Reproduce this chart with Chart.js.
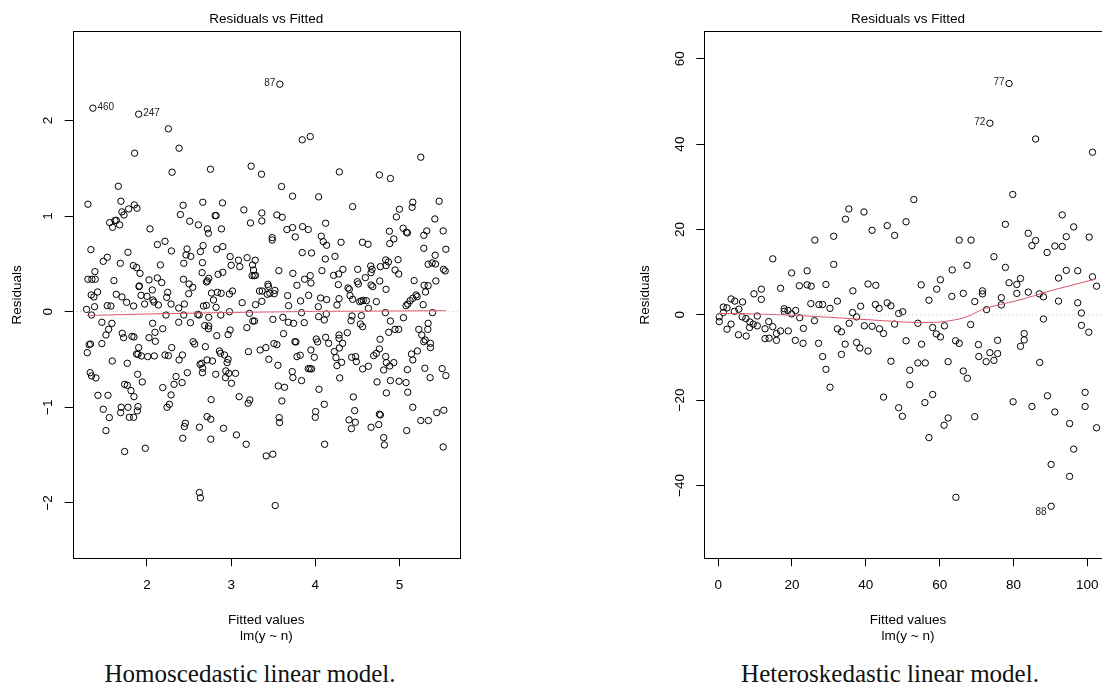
<!DOCTYPE html>
<html>
<head>
<meta charset="utf-8">
<script src="https://cdn.jsdelivr.net/npm/chart.js@4.4.1/dist/chart.umd.min.js"></script>
<style>
  html, body { margin: 0; padding: 0; background: #fff; overflow: hidden; width: 1102px; height: 685px; }
  canvas { position: absolute; top: 0; }
  .caption {
    position: absolute; top: 660px; width: 400px;
    font-family: "Liberation Serif", "Times New Roman", serif;
    font-size: 25px; line-height: 28px; color: #111;
    text-align: center; white-space: nowrap;
  }
</style>
</head>
<body>
<canvas id="homChart" width="550" height="660" style="left:0"></canvas>
<canvas id="hetChart" width="520" height="660" style="left:620px"></canvas>
<div class="caption" style="left:50px">Homoscedastic linear model.</div>
<div class="caption" style="left:690px">Heteroskedastic linear model.</div>

<script>
// ---- homoscedastic fit: fitted values / residuals ----
const homFitted = [
  2.254, 2.381, 3.845, 3.940, 1.853, 5.254, 2.298, 2.754, 3.238, 3.361, 4.286, 4.762, 4.893, 1.659, 3.599, 3.730,
  4.040, 1.298, 1.690, 1.849, 1.881, 1.782, 1.702, 1.726, 2.429, 2.663, 2.897, 2.397, 3.151, 3.365, 3.544, 3.607,
  4.444, 5.159, 5.151, 5.472, 5.000, 4.964, 5.421, 2.810, 2.821, 1.556, 1.619, 1.635, 1.591, 1.675, 2.508, 2.611,
  2.718, 2.730, 2.036, 2.885, 3.230, 3.365, 3.663, 3.730, 3.849, 3.917, 3.762, 4.123, 4.881, 5.044, 5.083, 5.095,
  5.325, 5.290, 5.520, 4.071, 4.095, 4.135, 4.306, 4.560, 4.627, 4.933, 4.885, 5.290, 5.552, 5.425, 3.488, 3.488,
  2.123, 2.214, 2.290, 2.476, 2.464, 2.520, 2.667, 2.829, 2.901, 2.635, 1.333, 1.528, 1.480, 1.774, 1.683, 1.837,
  1.877, 1.917, 2.437, 2.659, 2.159, 2.988, 3.000, 3.087, 3.103, 3.190, 3.286, 3.254, 3.250, 3.274, 3.290, 3.266,
  3.567, 3.845, 3.956, 4.119, 4.234, 4.079, 4.278, 4.329, 4.218, 4.504, 4.659, 4.675, 4.663, 4.774, 4.837, 4.841,
  4.869, 4.984, 4.948, 4.992, 5.341, 5.389, 5.429, 5.524, 5.544, 4.766, 5.175, 5.433, 1.298, 1.345, 1.385, 1.381,
  1.607, 2.024, 2.123, 2.175, 2.433, 2.500, 2.544, 2.496, 2.706, 2.734, 2.845, 2.901, 2.655, 2.718, 3.437, 3.444,
  3.734, 3.782, 3.873, 3.940, 3.948, 4.274, 4.389, 4.405, 4.500, 4.512, 4.595, 4.663, 4.683, 4.841, 5.294, 5.341,
  5.310, 5.198, 5.159, 5.127, 5.210, 5.099, 5.079, 5.282, 1.337, 1.413, 1.369, 1.635, 1.702, 1.758, 1.929, 1.909,
  1.905, 1.972, 2.000, 2.063, 2.071, 2.083, 2.135, 2.246, 2.234, 2.286, 2.377, 2.444, 2.766, 2.790, 2.821, 2.837,
  2.881, 2.980, 3.016, 3.131, 3.290, 3.337, 3.369, 3.365, 3.429, 3.460, 3.512, 3.520, 3.671, 3.683, 3.825, 3.921,
  4.036, 4.063, 4.135, 4.258, 4.282, 4.413, 4.444, 4.528, 4.548, 4.571, 4.607, 4.631, 4.726, 1.282, 1.377, 1.528,
  1.571, 1.841, 2.671, 2.706,
  1.341, 2.437, 2.226, 2.603, 2.619, 2.734, 2.877, 2.980, 3.218, 3.187, 3.258, 3.278, 3.496, 3.615, 3.679, 3.742,
  3.869, 3.837, 4.040, 4.107, 4.131, 4.437, 4.425, 4.548, 4.536, 4.563, 4.833, 4.893, 5.048, 5.393, 5.341, 5.337,
  5.230, 5.266, 5.306, 5.369, 5.369, 5.290, 5.214, 5.143, 5.159, 5.302, 5.365, 5.508, 5.552, 5.095, 5.099, 5.079,
  4.996, 5.159, 5.254, 5.345, 5.444, 5.528, 5.520, 5.087, 1.464, 1.512, 1.544, 1.583, 1.464, 1.313, 1.329, 1.290,
  1.587, 1.706, 1.722, 1.821, 1.845, 1.766, 1.901, 1.877, 1.893, 1.933, 2.024, 2.095, 2.067, 2.099, 2.087, 2.008,
  2.187, 2.214, 2.254, 2.294, 2.377, 2.516, 2.381, 2.421, 2.480, 2.548, 2.567, 2.694, 2.687, 2.734, 2.730, 2.829,
  2.964, 2.988, 2.861, 2.873, 2.921, 2.964, 2.952, 2.714, 2.778, 2.651, 2.631, 2.663, 2.659, 2.817, 2.937, 2.972,
  3.052, 2.933, 3.004, 2.345, 2.321, 2.417, 2.187, 2.286, 2.238, 2.266, 1.325, 1.341, 1.393, 1.417, 1.536, 1.480,
  1.552, 1.512, 1.694, 1.687, 1.734, 1.766, 1.810, 1.845, 1.774, 1.790, 1.841, 1.885, 1.893, 1.889, 1.944, 1.734,
  1.980, 2.425, 2.444, 2.456, 2.623, 2.714, 2.758, 2.762, 2.758, 2.909, 3.095, 3.063, 3.222, 3.202, 3.179, 3.206,
  3.345, 3.413, 3.448, 3.508, 3.544, 3.556, 3.560, 3.635, 3.603, 3.571, 3.575, 3.496, 3.417, 3.524, 2.623, 2.635,
  3.623, 3.758, 3.770, 3.782, 3.821, 3.726, 3.734, 3.837, 3.948, 3.988, 3.917, 3.937, 3.956, 4.012, 4.028, 4.123,
  4.159, 4.226, 4.246, 4.282, 4.282, 4.286, 4.325, 4.313, 4.258, 4.290, 4.044, 4.107, 4.004, 4.000, 4.111, 4.381,
  4.433, 4.480, 4.488, 4.563, 4.631, 4.694, 4.726, 4.762, 4.770, 4.873, 4.948, 4.992, 4.837, 4.845, 4.885, 4.933,
  4.813, 4.734, 4.893, 4.845, 4.452, 4.468, 4.401, 4.476, 4.429, 4.762, 4.774, 4.754, 4.663, 4.813, 4.821
];
const homResid = [
  1.913, 1.710, 1.798, 1.832, 1.658, 1.616, 1.459, 1.490, 1.522, 1.438, 1.462, 1.431, 1.393, 1.312, 1.309, 1.208,
  1.201, 1.124, 1.155, 1.117, 1.082, 1.075, 1.044, 1.012, 1.113, 1.145, 1.138, 1.016, 1.065, 1.033, 1.012, 0.988,
  1.099, 1.145, 1.092, 1.155, 1.072, 0.991, 0.970, 1.005, 1.005, 0.932, 0.953, 0.956, 0.883, 0.908, 0.946, 0.908,
  0.866, 0.820, 0.866, 0.866, 0.928, 0.949, 0.859, 0.880, 0.890, 0.859, 0.782, 0.925, 0.841, 0.873, 0.831, 0.824,
  0.845, 0.799, 0.845, 0.789, 0.733, 0.695, 0.726, 0.726, 0.705, 0.761, 0.712, 0.663, 0.653, 0.590, 0.775, 0.750,
  0.702, 0.736, 0.635, 0.656, 0.593, 0.579, 0.691, 0.653, 0.681, 0.628, 0.649, 0.569, 0.527, 0.621, 0.506, 0.482,
  0.461, 0.401, 0.506, 0.513, 0.489, 0.576, 0.485, 0.538, 0.471, 0.565, 0.538, 0.489, 0.377, 0.377, 0.380, 0.436,
  0.429, 0.618, 0.614, 0.551, 0.579, 0.429, 0.394, 0.443, 0.380, 0.443, 0.478, 0.443, 0.408, 0.471, 0.541, 0.482,
  0.520, 0.544, 0.436, 0.394, 0.496, 0.510, 0.499, 0.443, 0.426, 0.321, 0.325, 0.321, 0.339, 0.339, 0.339, 0.419,
  0.325, 0.332, 0.353, 0.304, 0.339, 0.290, 0.255, 0.188, 0.311, 0.349, 0.391, 0.412, 0.408, 0.321, 0.286, 0.265,
  0.401, 0.276, 0.339, 0.377, 0.300, 0.283, 0.248, 0.234, 0.314, 0.290, 0.356, 0.279, 0.262, 0.234, 0.276, 0.272,
  0.206, 0.175, 0.140, 0.115, 0.157, 0.080, 0.063, 0.073, 0.175, 0.206, 0.154, 0.182, 0.154, 0.098, 0.171, 0.269,
  0.262, 0.080, 0.161, 0.227, 0.122, 0.101, 0.070, 0.202, 0.150, 0.080, 0.038, 0.080, 0.195, 0.122, 0.045, 0.202,
  0.192, 0.185, 0.216, 0.094, 0.073, 0.216, 0.216, 0.108, 0.182, 0.192, 0.188, 0.223, 0.168, 0.063, 0.112, 0.171,
  0.052, 0.143, 0.126, 0.070, 0.136, 0.168, 0.129, 0.105, 0.112, 0.119, 0.115, 0.035, 0.105, 0.024, 0.052, 0.063,
  0.059, 0.059, 0.059, 0.066,
  -0.035, -0.035, -0.035, -0.028, -0.035, -0.059, -0.035, 0.000, -0.017, -0.167, -0.098, -0.098, -0.080, -0.059, -0.111, -0.122,
  -0.115, -0.010, -0.052, -0.087, -0.024, -0.045, -0.094, -0.042, -0.129, -0.157, -0.010, -0.098, -0.063, -0.010, -0.122, -0.185,
  -0.185, -0.244, -0.296, -0.331, -0.376, -0.314, -0.411, -0.443, -0.505, -0.592, -0.690, -0.596, -0.669, -0.606, -0.843, -0.742,
  -0.728, -1.000, -1.139, -1.139, -1.056, -1.031, -1.415, -1.244, -0.111, -0.244, -0.185, -0.122, -0.334, -0.345, -0.338, -0.429,
  -0.516, -0.226, -0.272, -0.258, -0.265, -0.540, -0.376, -0.443, -0.446, -0.463, -0.272, -0.216, -0.122, -0.310, -0.463, -0.470,
  -0.178, -0.453, -0.460, -0.376, -0.111, -0.115, -0.505, -0.453, -0.638, -0.314, -0.338, -0.366, -0.146, -0.150, -0.178, -0.251,
  -0.240, -0.192, -0.411, -0.436, -0.453, -0.498, -0.533, -0.505, -0.516, -0.540, -0.551, -0.592, -0.638, -0.655, -0.620, -0.645,
  -0.645, -0.690, -0.749, -0.679, -0.760, -0.742, -0.794, -0.871, -1.000, -0.969, -0.638, -0.672, -0.693, -0.875, -0.875, -1.021,
  -1.108, -1.244, -1.000, -1.056, -0.760, -0.770, -0.826, -0.889, -1.000, -1.105, -1.105, -1.038, -0.993, -0.655, -0.735, -1.463,
  -1.429, -1.324, -1.202, -1.167, -1.209, -1.098, -1.125, -0.920, -1.334, -1.220, -0.889, -1.289, -0.923, -0.958, -1.387, -0.418,
  -0.401, -0.376, -0.498, -0.334, -0.345, -0.561, -0.777, -0.791, -0.934, -1.108, -1.160, -1.491, -1.509, -2.028, -1.892, -1.948,
  -0.230, -0.314, -0.317, -0.470, -0.456, -0.627, -0.690, -0.721, -0.401, -0.477, -0.596, -0.596, -0.599, -0.286, -0.317, -0.268,
  -0.331, -0.418, -0.481, -0.244, -0.279, -0.380, -0.331, -0.530, -0.564, -0.693, -0.812, -0.969, -1.045, -1.105, -1.387, -0.220,
  -0.477, -0.470, -0.523, -0.599, -0.571, -0.460, -0.436, -0.390, -0.289, -0.216, -0.185, -0.185, -0.470, -0.533, -0.568, -0.533,
  -0.610, -0.735, -0.721, -0.850, -0.892, -1.035, -1.132, -1.157, -1.223, -1.073, -1.080, -1.181, -1.209, -1.317, -1.394
];
// observations flagged with their row number
const homIds = ['460', '247', '87'];
const homIdFitted = [1.357, 1.901, 3.579];
const homIdResid = [2.129, 2.066, 2.380];
// lowess smoother
const homSmoothFitted = [1.286, 2.0, 3.0, 4.0, 5.0, 5.552];
const homSmoothResid = [-0.040, -0.025, -0.008, 0.003, 0.007, 0.010];
// axes
const homXRange = [1.117, 5.72];
const homYRange = [-2.58, 2.933];
const homXTicks = [2, 3, 4, 5];
const homYTicks = [-2, -1, 0, 1, 2];

// ---- heteroskedastic fit ----
const hetFitted = [
  86.0, 101.4, 79.8, 53.0, 35.4, 34.5, 39.5, 41.7, 45.8, 47.8, 50.9, 77.8, 93.2, 96.3, 100.5, 94.3,
  84.0, 85.0, 86.0, 93.2, 91.2, 89.1, 65.3, 68.5, 26.2, 31.3, 31.3, 14.8, 19.9, 24.1, 22.0, 24.1,
  25.2, 29.2, 16.9, 11.7, 11.7, 9.7, 74.7, 77.8, 67.4, 63.4, 94.3, 97.4, 92.2, 101.4, 102.5, 81.9,
  78.8, 80.9, 80.9, 84.0, 87.0, 88.1, 76.7, 76.7, 71.6, 71.6, 66.4, 63.3, 60.2, 59.2, 55.0, 57.1,
  69.5, 72.7, 92.2, 97.4, 98.4, 40.6, 42.7, 36.5, 32.3, 38.6, 42.6, 43.6, 45.8, 46.8, 48.9, 50.0,
  36.4, 25.1, 27.3, 28.3, 30.3, 17.9, 17.9, 18.9, 19.9, 21.0, 3.5, 4.5, 6.6, 5.6, 4.4, 2.4,
  1.4, 1.4,
  0.3, 0.3, 2.4, 3.5, 6.5, 7.5, 8.6, 8.5, 9.5, 10.6, 10.6, 5.5, 7.6, 12.7, 13.7, 14.8,
  12.7, 13.8, 15.8, 15.8, 16.9, 19.0, 22.1, 23.1, 20.9, 23.0, 26.1, 27.2, 28.3, 29.2, 30.3, 32.3,
  33.4, 34.4, 33.4, 35.5, 37.5, 37.5, 38.4, 39.6, 40.6, 41.7, 43.7, 44.8, 46.8, 47.8, 44.8, 48.9,
  49.9, 50.9, 51.9, 51.9, 54.1, 54.1, 55.1, 56.1, 56.0, 57.1, 58.1, 58.1, 59.1, 60.2, 61.3, 61.2,
  62.3, 62.3, 64.3, 65.3, 64.4, 66.4, 67.5, 68.4, 69.5, 70.5, 70.6, 72.6, 73.6, 74.7, 75.7, 75.7,
  79.9, 81.9, 82.9, 82.9, 85.0, 87.1, 88.1, 89.2, 90.2, 91.2, 95.2, 96.3, 95.2, 98.4, 99.4, 99.4,
  100.4, 102.5
];
const hetResid = [
  41.2, 38.1, 28.2, 27.0, 24.8, 22.4, 24.1, 19.8, 20.9, 18.6, 21.8, 21.2, 23.4, 20.6, 18.2, 18.3,
  19.1, 16.2, 17.4, 16.0, 16.1, 14.6, 17.5, 17.5, 17.5, 18.4, 11.8, 13.1, 9.8, 10.3, 6.8, 7.0,
  6.7, 7.1, 6.2, 6.0, 3.6, 4.9, 13.6, 11.1, 11.6, 10.5, 10.4, 10.3, 8.6, 8.9, 6.7, 8.5,
  7.5, 7.1, 5.0, 5.3, 4.9, 4.2, 4.0, 2.3, 5.6, 4.9, 5.0, 4.3, 8.2, 6.0, 7.0, 3.4,
  3.1, 1.2, 3.2, 2.8, 0.4, 7.2, 6.9, 5.6, 3.2, 2.0, 2.4, 1.5, 2.8, 2.1, 0.3, 0.7,
  0.5, 2.6, 2.4, 2.4, 1.5, 1.4, 0.8, 1.0, 0.2, 1.0, 3.7, 3.2, 3.0, 1.3, 0.8, 1.6,
  1.8, 0.5,
  -0.5, -1.6, -3.4, -2.2, -0.5, -0.9, -1.7, -3.0, -2.2, -0.3, -2.6, -4.7, -5.0, -3.3, -1.6, -2.8,
  -5.6, -5.5, -6.0, -4.4, -3.8, -3.8, -0.7, -3.2, -6.0, -6.7, -1.4, -6.7, -9.8, -12.8, -17.0, -3.3,
  -4.0, -6.9, -9.3, -2.0, -0.5, -6.5, -7.8, -2.6, -8.5, -2.7, -3.3, -4.4, -10.9, -2.2, -19.3, -21.8,
  -23.8, -6.1, -13.0, -16.4, -2.0, -11.3, -6.9, -11.3, -20.6, -28.8, -3.0, -18.7, -4.5, -5.2, -2.6, -25.9,
  -11.0, -24.2, -6.1, -6.7, -42.8, -13.2, -14.9, -2.3, -23.9, -7.0, -9.8, -11.0, -8.9, -10.7, -6.0, -9.1,
  -20.4, -7.4, -4.4, -5.9, -21.5, -11.2, -1.0, -19.0, -35.1, -22.8, -25.5, -31.5, -37.9, -2.5, -18.2, -21.5,
  -4.1, -26.5
];
const hetIds = ['77', '72', '88'];
const hetIdFitted = [78.8, 73.6, 90.2];
const hetIdResid = [54.2, 44.9, -44.9];
const hetSmoothFitted = [0.3, 11.4, 22.2, 35.7, 44.8, 53.8, 58.3, 62.8, 67.3, 71.8, 76.4, 80.9, 85.4, 89.9, 94.4, 102.3];
const hetSmoothResid = [0.3, 0.15, -0.2, -0.9, -1.4, -1.8, -1.8, -1.4, -0.5, 1.3, 2.4, 3.3, 4.4, 5.6, 6.6, 8.4];
const hetXRange = [-3.75, 106.6];
const hetYRange = [-57.1, 66.45];
const hetXTicks = [0, 20, 40, 60, 80, 100];
const hetYTicks = [-40, -20, 0, 20, 40, 60];

const FONT = '"Liberation Sans", Arial, Helvetica, sans-serif';
const minus = v => String(v).replace('-', '\u2212');
const pts = (xs, ys) => xs.map((x, i) => ({ x: x, y: ys[i] }));

// box around the plot region, rotated y tick labels, id labels next to flagged points
function rPlotExtras(ids, idX, idY) {
  return {
    id: 'rPlotExtras',
    afterDatasetsDraw(chart) {
      const { ctx, scales: { x, y } } = chart;
      const mid = (x.min + x.max) / 2;
      ctx.save();
      ctx.font = '10px ' + FONT;
      ctx.fillStyle = '#222';
      ctx.textBaseline = 'middle';
      ids.forEach((id, i) => {
        const px = x.getPixelForValue(idX[i]);
        const py = y.getPixelForValue(idY[i]) + (idY[i] < 0 ? 6 : -1);
        const onLeft = idX[i] > mid;
        ctx.textAlign = onLeft ? 'right' : 'left';
        ctx.fillText(id, px + (onLeft ? -4.5 : 4.5), py);
      });
      ctx.restore();
    },
    afterDraw(chart) {
      const { ctx, chartArea: a, scales: { y } } = chart;
      ctx.save();
      ctx.strokeStyle = '#000';
      ctx.lineWidth = 1;
      const l = Math.round(a.left) + 0.5, t = Math.round(a.top) + 0.5;
      const r = Math.round(a.right) + 0.5, b = Math.round(a.bottom) + 0.5;
      ctx.strokeRect(l, t, r - l, b - t);

      ctx.font = '13.5px ' + FONT;
      ctx.fillStyle = '#000';
      ctx.textAlign = 'center';
      ctx.textBaseline = 'middle';
      y.ticks.forEach(tk => {
        ctx.save();
        ctx.translate(a.left - 24.5, y.getPixelForValue(tk.value));
        ctx.rotate(-Math.PI / 2);
        ctx.fillText(minus(tk.value), 0, 0);
        ctx.restore();
      });
      ctx.restore();
    }
  };
}

function residualPlot(canvasId, d) {
  const axisFont = { family: FONT, size: 13.5, lineHeight: 16 / 13.5 };
  const tickGrid = { drawOnChartArea: false, drawTicks: true, tickLength: 8, color: '#000', lineWidth: 1 };
  return new Chart(document.getElementById(canvasId), {
    type: 'scatter',
    data: {
      datasets: [
        {
          // dotted reference line at zero
          data: [{ x: d.xRange[0], y: 0 }, { x: d.xRange[1], y: 0 }],
          showLine: true, borderColor: '#bebebe', borderWidth: 1, borderDash: [1, 3], pointRadius: 0
        },
        {
          data: pts(d.smoothX, d.smoothY),
          showLine: true, borderColor: '#df536b', borderWidth: 1, pointRadius: 0,
          tension: 0.4, cubicInterpolationMode: 'monotone'
        },
        {
          data: pts(d.fitted.concat(d.idX), d.resid.concat(d.idY)),
          pointStyle: 'circle', pointRadius: 3.2, borderWidth: 1,
          borderColor: '#000', backgroundColor: 'rgba(0,0,0,0)'
        }
      ]
    },
    options: {
      responsive: false,
      animation: false,
      events: [],
      layout: { padding: { left: 0, right: d.padRight, top: 0, bottom: 0 } },
      plugins: {
        legend: { display: false },
        tooltip: { enabled: false },
        title: {
          display: true, text: 'Residuals vs Fitted', fullSize: false, color: '#000',
          font: { family: FONT, size: 13.5, weight: 'normal', lineHeight: 16 / 13.5 },
          padding: { top: 11.3, bottom: 4 }
        }
      },
      scales: {
        x: {
          type: 'linear', min: d.xRange[0], max: d.xRange[1],
          afterBuildTicks: s => { s.ticks = d.xTicks.map(v => ({ value: v })); },
          afterFit: s => { s.height = 101.7; },
          grid: tickGrid,
          border: { display: false },
          ticks: { color: '#000', font: { family: FONT, size: 13.5 }, padding: 10.9, maxRotation: 0, autoSkip: false, callback: v => minus(v) },
          title: { display: true, text: ['Fitted values', 'lm(y ~ n)'], color: '#000', font: axisFont, padding: { top: 0, bottom: 16 } }
        },
        y: {
          type: 'linear', min: d.yRange[0], max: d.yRange[1],
          afterBuildTicks: s => { s.ticks = d.yTicks.map(v => ({ value: v })); },
          afterFit: s => { s.width = d.yAxisWidth; },
          grid: tickGrid,
          border: { display: false },
          ticks: { display: false },
          title: { display: true, text: 'Residuals', color: '#000', font: axisFont, padding: { top: d.yTitlePad, bottom: 0 } }
        }
      }
    },
    plugins: [rPlotExtras(d.ids, d.idX, d.idY)]
  });
}

residualPlot('homChart', {
  fitted: homFitted, resid: homResid,
  ids: homIds, idX: homIdFitted, idY: homIdResid,
  smoothX: homSmoothFitted, smoothY: homSmoothResid,
  xRange: homXRange, yRange: homYRange, xTicks: homXTicks, yTicks: homYTicks,
  yAxisWidth: 72.7, yTitlePad: 9, padRight: 90
});

residualPlot('hetChart', {
  fitted: hetFitted, resid: hetResid,
  ids: hetIds, idX: hetIdFitted, idY: hetIdResid,
  smoothX: hetSmoothFitted, smoothY: hetSmoothResid,
  xRange: hetXRange, yRange: hetYRange, xTicks: hetXTicks, yTicks: hetYTicks,
  yAxisWidth: 84.3, yTitlePad: 17.3, padRight: 28.3
});
</script>
</body>
</html>
